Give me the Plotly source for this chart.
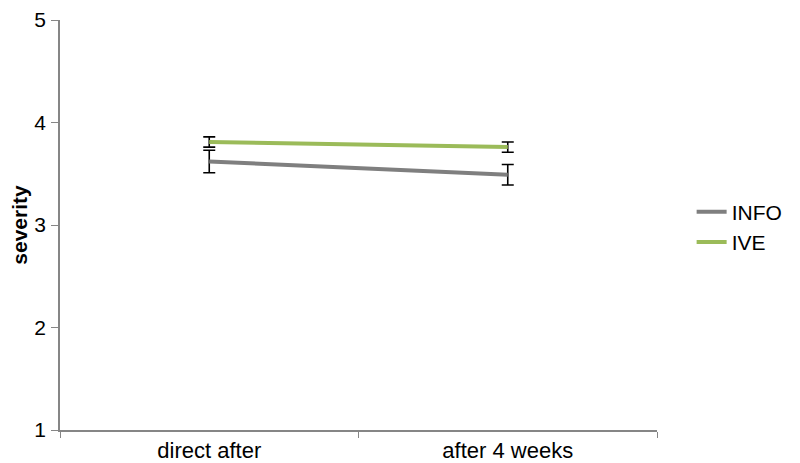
import plotly.graph_objects as go

# data
timepoints = ["direct after", "after 4 weeks"]
info_mean = [3.62, 3.49]
info_err = [0.11, 0.10]
ive_mean = [3.81, 3.76]
ive_err = [0.05, 0.05]

fig = go.Figure()

fig.add_trace(go.Scatter(
    x=timepoints, y=info_mean, name="INFO", mode="lines",
    line=dict(color="#7f7f7f", width=4),
    error_y=dict(type="data", array=info_err, color="black", thickness=1.6, width=6),
))
fig.add_trace(go.Scatter(
    x=timepoints, y=ive_mean, name="IVE", mode="lines",
    line=dict(color="#9bbb59", width=4),
    error_y=dict(type="data", array=ive_err, color="black", thickness=1.6, width=6),
))

# page body adds an 8px offset, so the figure is a bit smaller than the window
fig.update_layout(
    width=792, height=455,
    margin=dict(l=52, r=137, t=12, b=33),
    plot_bgcolor="white", paper_bgcolor="white",
    font=dict(family="Liberation Sans, Arial, sans-serif", size=21, color="black"),
    showlegend=True,
    legend=dict(x=1.058, y=0.495, xanchor="left", yanchor="middle",
                font=dict(size=21), tracegroupgap=0),
)
fig.update_xaxes(
    type="category", range=[-0.5, 1.5], showgrid=False, automargin=False,
    showline=True, linecolor="#868686", linewidth=1.5, tickfont=dict(size=22),
    ticks="outside", tickson="boundaries", ticklen=6, tickcolor="#868686",
)
fig.update_yaxes(
    range=[1, 5], dtick=1, showgrid=False, zeroline=False, automargin=False,
    showline=True, linecolor="#868686", linewidth=1.5,
    ticks="outside", ticklen=7, tickcolor="#868686", ticklabelstandoff=1,
    ticklabeloverflow="allow",
    title=dict(text="<b>severity</b>", font=dict(size=21), standoff=2),
)

fig.write_html("out.html")
